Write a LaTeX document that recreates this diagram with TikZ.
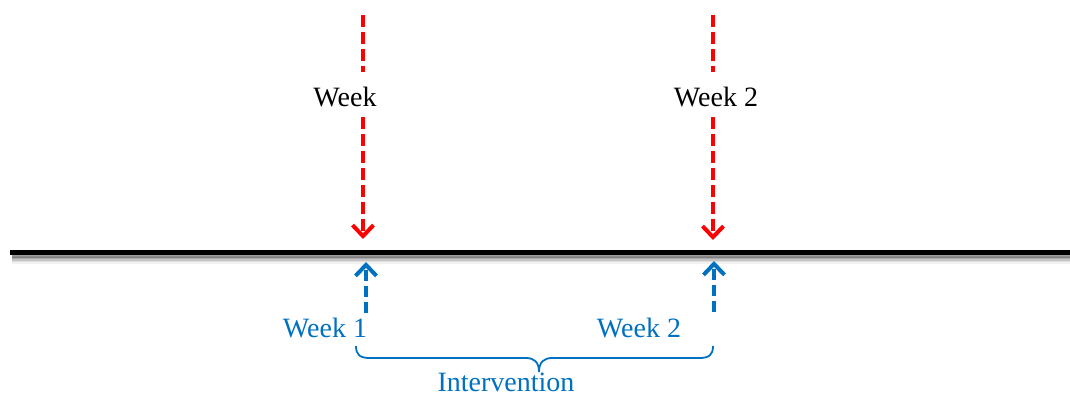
\documentclass[tikz,border=0pt]{standalone}
\usepackage{fontspec}
\setmainfont{Liberation Serif}
\usetikzlibrary{arrows.meta}
\definecolor{myblue}{RGB}{0,112,192}
\definecolor{myred}{RGB}{255,0,0}
\tikzset{
  x=1pt,y=1pt,
  lbl/.style={font=\fontsize{28}{31}\selectfont, inner sep=0pt, anchor=base},
  redarr/.style={draw=myred, line width=4pt, dash pattern=on 12pt off 5pt},
  bluearr/.style={draw=myblue, line width=4pt, dash pattern=on 12pt off 5pt},
  tip/.style={-{Straight Barb[length=11pt,width=21pt,line width=4pt]}},
}
\begin{document}
\begin{tikzpicture}
\useasboundingbox (0,0) rectangle (1070,-394);
% timeline with soft shadow
\foreach \d/\o in {9/0.05,7.5/0.08,6/0.12,4.5/0.18,3/0.25}{
  \draw[line width=5pt, black, opacity=\o] (12,-252-\d) -- (1070,-252-\d);
}
\coordinate (L) at (10,-252);
\coordinate (R) at (1070,-252);
\draw[line width=5pt, black] (L) -- (R);

% top labels
\node[lbl] (w1) at (345,-106) {Week};
\node[lbl] (w2) at (716,-106) {Week 2};

% red arrows
\coordinate (r1a) at (363,-15);
\coordinate (r1b) at (363,-72);
\coordinate (r1c) at (363,-117);
\coordinate (r1d) at (363,-239);
\draw[redarr] (r1a) -- (r1b);
\draw[redarr, tip] (r1c) -- (r1d);

\coordinate (r2a) at (713,-15);
\coordinate (r2b) at (713,-72);
\coordinate (r2c) at (713,-117);
\coordinate (r2d) at (713,-240);
\draw[redarr] (r2a) -- (r2b);
\draw[redarr, tip] (r2c) -- (r2d);

% blue arrows
\coordinate (b1a) at (366,-313);
\coordinate (b1b) at (366,-262);
\coordinate (b2a) at (714,-312);
\coordinate (b2b) at (714,-261);
\draw[bluearr, tip, dash pattern=on 11pt off 5pt] (b1a) -- (b1b);
\draw[bluearr, tip, dash pattern=on 11pt off 5pt] (b2a) -- (b2b);

% blue labels
\node[lbl, text=myblue] (bw1) at (325,-337) {Week 1};
\node[lbl, text=myblue] (bw2) at (639,-337) {Week 2};

% brace
\coordinate (brL) at (356,-346);
\coordinate (brR) at (713,-346);
\coordinate (brT) at (539,-372);
\draw[myblue, line width=1.8pt]
  (brL) .. controls (356,-355) and (360,-358) .. (370,-358)
  -- (526,-358) .. controls (534,-358) and (539,-362) .. (brT)
  .. controls (539,-362) and (544,-358) .. (552,-358)
  -- (699,-358) .. controls (709,-358) and (713,-355) .. (brR);

\node[lbl, text=myblue] (iv) at (506,-391) {Intervention};
\end{tikzpicture}
\end{document}
